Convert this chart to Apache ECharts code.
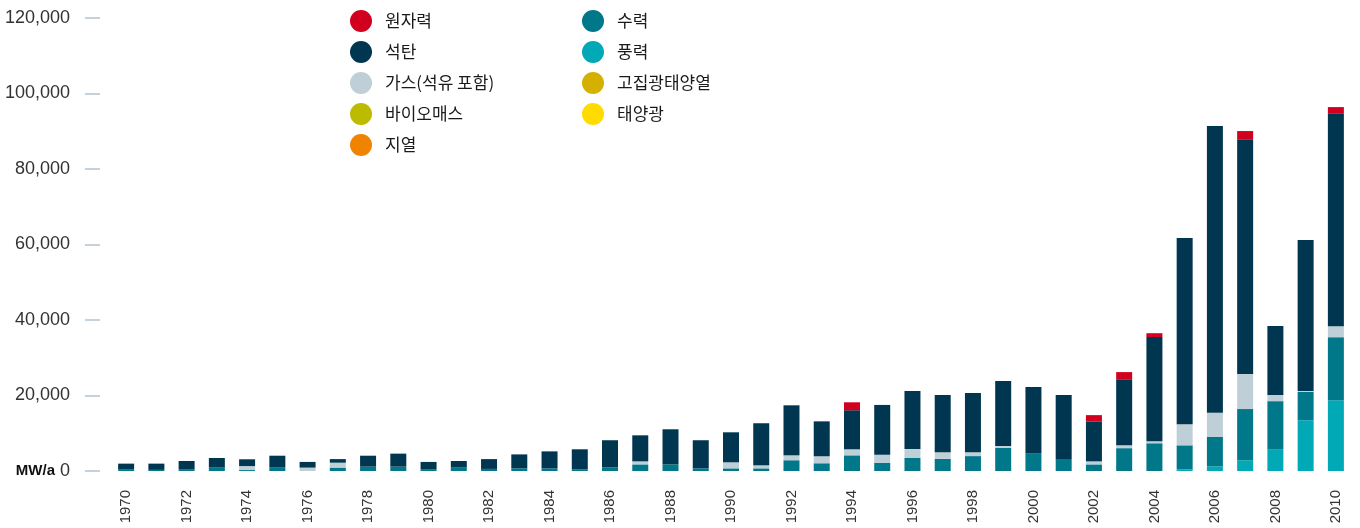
<!DOCTYPE html>
<html>
<head>
<meta charset="utf-8">
<title>연간 신규 설비용량</title>
<script src="https://cdn.jsdelivr.net/npm/echarts@6/dist/echarts.min.js"></script>
<style>
  html, body { margin: 0; padding: 0; background: #fff; }
  #chart { width: 1360px; height: 528px; }
</style>
</head>
<body>
<div id="chart"></div>
<script>
// 연도 (x축 범주)
const years = ['1970','1971','1972','1973','1974','1975','1976','1977','1978','1979',
  '1980','1981','1982','1983','1984','1985','1986','1987','1988','1989',
  '1990','1991','1992','1993','1994','1995','1996','1997','1998','1999',
  '2000','2001','2002','2003','2004','2005','2006','2007','2008','2009','2010'];

// 전원별 연간 신규 설비용량 (MW/a)
const wind = [0,0,0,0,0,0,0,0,0,0, 0,0,0,0,0,0,0,0,0,0, 0,0,0,0,0,0,0,0,0,0,
  0,0,0,0,0,450,1250,2850,5800,13450,18750];
const hydro = [500,300,500,900,250,900,0,900,1150,1150, 500,900,550,700,700,450,950,1750,1750,700,
  700,700,2850,2050,4150,2200,3450,3200,3950,6100, 4750,3200,1750,6050,7350,6350,7750,13550,12700,7500,16700];
const gas = [0,0,0,0,1050,0,900,1300,0,0, 0,0,0,0,0,0,0,800,0,0,
  1600,800,1300,1850,1600,2100,2350,1800,1050,500, 0,0,800,800,550,5600,6400,9300,1650,250,2900];
const coal = [1450,1650,2150,2550,1800,3150,1500,950,2900,3450, 1900,1750,2600,3700,4500,5300,7200,6900,9300,7450,
  7950,11150,13250,9250,10350,13200,15400,15100,15650,17250, 17500,16900,10500,17450,27600,49300,76000,62200,18250,40000,56450];
const nuclear = [0,0,0,0,0,0,0,0,0,0, 0,0,0,0,0,0,0,0,0,0,
  0,0,0,0,2100,0,0,0,0,0, 0,0,1750,1900,1000,0,0,2150,0,0,1600];
const biomass = [0,0,0,0,0,0,0,0,0,0, 0,0,0,0,0,0,0,0,0,0, 0,0,0,0,0,0,0,0,0,0, 0,0,0,0,0,0,0,0,0,0,0];
const geothermal = [0,0,0,0,0,0,0,0,0,0, 0,0,0,0,0,0,0,0,0,0, 0,0,0,0,0,0,0,0,0,0, 0,0,0,0,0,0,0,0,0,0,0];
const csp = [0,0,0,0,0,0,0,0,0,0, 0,0,0,0,0,0,0,0,0,0, 0,0,0,0,0,0,0,0,0,0, 0,0,0,0,0,0,0,0,0,0,0];
const solarPv = [0,0,0,0,0,0,0,0,0,0, 0,0,0,0,0,0,0,0,0,0, 0,0,0,0,0,0,0,0,0,0, 0,0,0,0,0,0,0,0,0,0,0];

// 쌓는 순서: 아래에서 위로
const seriesDefs = [
  { name: '풍력', data: wind, color: '#00a9b5' },
  { name: '수력', data: hydro, color: '#00788a' },
  { name: '바이오매스', data: biomass, color: '#bdbb00' },
  { name: '지열', data: geothermal, color: '#f08300' },
  { name: '고집광태양열', data: csp, color: '#d4b100' },
  { name: '태양광', data: solarPv, color: '#ffdb00' },
  { name: '가스(석유 포함)', data: gas, color: '#bfcfd8' },
  { name: '석탄', data: coal, color: '#013651' },
  { name: '원자력', data: nuclear, color: '#d1001f' }
];

const legendLeft = ['원자력', '석탄', '가스(석유 포함)', '바이오매스', '지열'];
const legendRight = ['수력', '풍력', '고집광태양열', '태양광'];

const latin = "'Liberation Sans', Arial, sans-serif";
const hangul = "'Noto Sans CJK KR', 'Liberation Sans', sans-serif";

function legendBlock(names, left) {
  return {
    data: names,
    orient: 'vertical',
    left: left,
    top: 5,
    icon: 'circle',
    itemWidth: 38,
    itemHeight: 22,
    itemGap: 9,
    selectedMode: false,
    textStyle: { fontFamily: hangul, fontSize: 17, color: '#1a1a1a' }
  };
}

const chart = echarts.init(document.getElementById('chart'), null, { renderer: 'canvas' });
chart.setOption({
  animation: false,
  backgroundColor: '#ffffff',
  legend: [legendBlock(legendLeft, 345), legendBlock(legendRight, 577)],
  grid: { left: 111, right: 9, top: 18, bottom: 57, containLabel: false },
  xAxis: {
    type: 'category',
    data: years,
    boundaryGap: true,
    axisLine: { show: false },
    axisTick: { show: false },
    axisLabel: {
      interval: 1,
      rotate: 90,
      margin: 19,
      fontFamily: latin,
      fontSize: 15,
      color: '#333333'
    }
  },
  yAxis: {
    type: 'value',
    min: 0,
    max: 120000,
    interval: 20000,
    offset: 11,
    axisLine: { show: false },
    splitLine: { show: false },
    axisTick: { show: true, length: 15, lineStyle: { color: '#b4c3cf', width: 1.5 } },
    axisLabel: {
      margin: 30,
      fontFamily: latin,
      fontSize: 18,
      color: '#333333',
      formatter: function (v) {
        return v === 0 ? '{u|MW/a} 0' : v.toLocaleString('en-US');
      },
      rich: {
        u: { fontFamily: latin, fontSize: 15, fontWeight: 'bold', color: '#111111' }
      }
    }
  },
  series: seriesDefs.map(function (s) {
    return {
      name: s.name,
      type: 'bar',
      stack: 'total',
      barWidth: 16,
      data: s.data,
      itemStyle: { color: s.color },
      emphasis: { disabled: true }
    };
  })
});
</script>
</body>
</html>
